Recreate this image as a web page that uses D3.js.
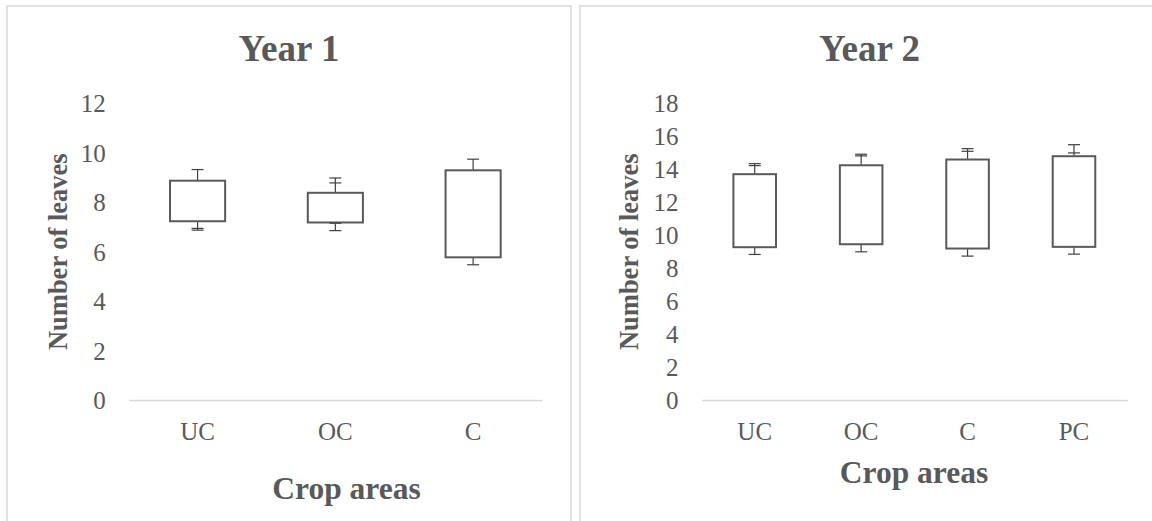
<!DOCTYPE html>
<html>
<head>
<meta charset="utf-8">
<script src="https://cdn.jsdelivr.net/npm/d3@7"></script>
<style>
  html, body { margin: 0; padding: 0; background: #fff; }
  svg { display: block; }
</style>
</head>
<body>
<svg id="chart" width="1152" height="521"></svg>
<script>
// ---------- DATA ----------
const year1Categories = ["UC", "OC", "C"];
const year1Q1 = [7.23, 7.18, 5.77];      // box bottom
const year1Q3 = [8.87, 8.38, 9.29];      // box top
const year1Min = [6.87, 6.85, 5.47];     // lower whisker
const year1Max = [9.32, 8.98, 9.74];     // upper whisker
const year1LowCap2 = [6.94, 7.15, null]; // secondary lower cap
const year1HighCap2 = [null, 8.78, null];// secondary upper cap
const year1Ticks = [0, 2, 4, 6, 8, 10, 12];

const year2Categories = ["UC", "OC", "C", "PC"];
const year2Q1 = [9.27, 9.45, 9.19, 9.29];
const year2Q3 = [13.70, 14.24, 14.59, 14.79];
const year2Min = [8.83, 8.99, 8.73, 8.85];
const year2Max = [14.34, 14.91, 15.25, 15.49];
const year2LowCap2 = [null, null, null, null];
const year2HighCap2 = [14.22, 14.81, 15.09, 14.99];
const year2Ticks = [0, 2, 4, 6, 8, 10, 12, 14, 16, 18];

// ---------- DRAW ----------
const svg = d3.select("#chart");
const FONT = "'Liberation Serif', 'Times New Roman', serif";
const TEXT = "#595959";
const BOX = "#595959";
const WHISK = "#404040";
const GRID = "#d9d9d9";

function panel(opt) {
  const g = svg.append("g");
  g.append("rect")
    .attr("x", opt.bx).attr("y", 6)
    .attr("width", opt.bw).attr("height", 560)
    .attr("fill", "#fff").attr("stroke", GRID).attr("stroke-width", 1.5);

  const x = d3.scaleBand().domain(opt.cats).range([opt.x0, opt.x1]).padding(0);
  const y = d3.scaleLinear().domain([0, opt.ymax]).range([400, 103.3]);

  g.append("text").attr("x", opt.titleX).attr("y", 61)
    .attr("text-anchor", "middle").attr("font-family", FONT)
    .attr("font-weight", "bold").attr("font-size", 37).attr("fill", TEXT)
    .text(opt.title);

  const ya = g.append("g").attr("transform", `translate(${opt.x0},0)`)
    .call(d3.axisLeft(y).tickValues(opt.ticks).tickSize(0).tickPadding(23));
  ya.select(".domain").remove();
  ya.selectAll("text").attr("font-family", FONT).attr("font-size", 25)
    .attr("fill", TEXT).attr("dy", "0.34em");

  const xa = g.append("g").attr("transform", "translate(0,400)")
    .call(d3.axisBottom(x).tickSize(0).tickSizeOuter(0).tickPadding(22));
  xa.select(".domain").attr("stroke", GRID).attr("stroke-width", 1.5);
  xa.selectAll("text").attr("font-family", FONT).attr("font-size", 25)
    .attr("fill", TEXT);

  g.append("text")
    .attr("transform", `translate(${opt.ytX},251.7) rotate(-90)`)
    .attr("text-anchor", "middle").attr("dy", "0.35em")
    .attr("font-family", FONT).attr("font-weight", "bold")
    .attr("font-size", 26.5).attr("fill", TEXT).text("Number of leaves");
  g.append("text").attr("x", opt.xtX).attr("y", opt.xtY)
    .attr("text-anchor", "middle").attr("font-family", FONT)
    .attr("font-weight", "bold").attr("font-size", 31.5).attr("fill", TEXT)
    .text("Crop areas");

  const data = opt.cats.map((c, i) => ({
    c, q1: opt.q1[i], q3: opt.q3[i], mn: opt.mn[i], mx: opt.mx[i],
    lo2: opt.lo2[i], hi2: opt.hi2[i]
  }));
  const bw = x.bandwidth() * 0.4;
  const cw = opt.capW;
  const items = g.append("g").selectAll("g").data(data).join("g")
    .attr("transform", d => `translate(${x(d.c) + x.bandwidth() / 2},0)`);

  items.append("line").attr("x1", 0).attr("x2", 0)
    .attr("y1", d => y(d.q3)).attr("y2", d => y(d.mx))
    .attr("stroke", WHISK).attr("stroke-width", 1.2);
  items.append("line").attr("x1", 0).attr("x2", 0)
    .attr("y1", d => y(d.q1)).attr("y2", d => y(d.mn))
    .attr("stroke", WHISK).attr("stroke-width", 1.2);
  const caps = [];
  data.forEach(d => {
    caps.push({ c: d.c, v: d.mx });
    caps.push({ c: d.c, v: d.mn });
    if (d.lo2 != null) caps.push({ c: d.c, v: d.lo2 });
    if (d.hi2 != null) caps.push({ c: d.c, v: d.hi2 });
  });
  g.append("g").selectAll("line").data(caps).join("line")
    .attr("x1", d => x(d.c) + x.bandwidth() / 2 - cw / 2)
    .attr("x2", d => x(d.c) + x.bandwidth() / 2 + cw / 2)
    .attr("y1", d => y(d.v)).attr("y2", d => y(d.v))
    .attr("stroke", WHISK).attr("stroke-width", 1.2);

  items.append("rect")
    .attr("x", -bw / 2).attr("width", bw)
    .attr("y", d => y(d.q3)).attr("height", d => y(d.q1) - y(d.q3))
    .attr("fill", "#fff").attr("stroke", BOX).attr("stroke-width", 2);
}

panel({
  bx: 7, bw: 564, x0: 128.7, x1: 542, ymax: 12, ticks: year1Ticks,
  cats: year1Categories, q1: year1Q1, q3: year1Q3, mn: year1Min, mx: year1Max,
  lo2: year1LowCap2, hi2: year1HighCap2,
  title: "Year 1", titleX: 289, ytX: 57.7, xtX: 346.5, xtY: 499, capW: 12
});
panel({
  bx: 580, bw: 600, x0: 701.5, x1: 1127.2, ymax: 18, ticks: year2Ticks,
  cats: year2Categories, q1: year2Q1, q3: year2Q3, mn: year2Min, mx: year2Max,
  lo2: year2LowCap2, hi2: year2HighCap2,
  title: "Year 2", titleX: 869.5, ytX: 629, xtX: 914, xtY: 483, capW: 12
});
</script>
</body>
</html>
